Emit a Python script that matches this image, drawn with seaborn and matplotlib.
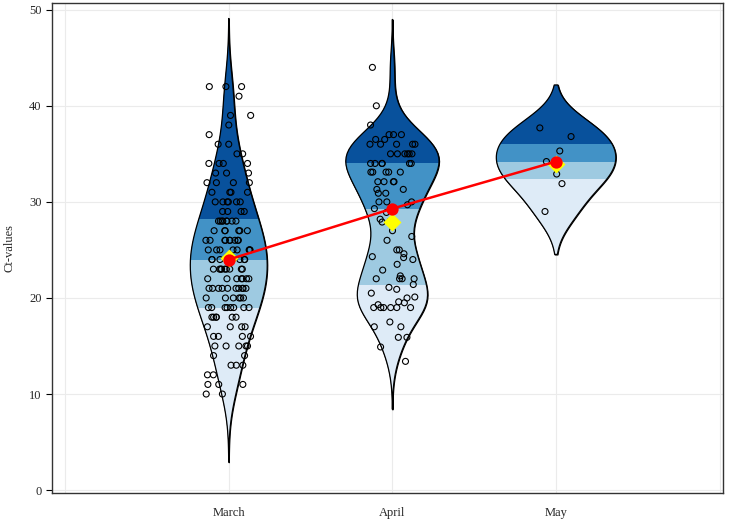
import numpy as np
import pandas as pd
import matplotlib
matplotlib.use('Agg')
import matplotlib.pyplot as plt
import seaborn as sns
from matplotlib.patches import Rectangle, PathPatch

sns.set_style('white')
plt.rcParams['font.family'] = ['Liberation Serif', 'DejaVu Serif']

months = ['March', 'April', 'May']

# March Ct values are whole numbers: value and number of samples at it
march_values = [42, 41, 39, 38, 37, 36, 35, 34, 33, 32, 31, 30, 29, 28, 27, 26,
                25, 24, 23, 22, 21, 20, 19, 18, 17, 16, 15, 14, 13, 12, 11, 10]
march_counts = [3, 1, 2, 1, 1, 2, 2, 4, 3, 4, 4, 6, 4, 8, 6, 9,
                8, 9, 9, 7, 10, 6, 8, 6, 4, 4, 5, 2, 3, 2, 3, 2]

april_ct = [44, 40, 38, 37, 37, 37, 36.5, 36.5, 36, 36, 36, 36, 36,
            35, 35, 35, 35, 35, 35, 34, 34, 34, 34, 34, 34,
            33.1, 33.1, 33.1, 33.1, 33.1, 32.1, 32.1, 32.1, 32.1,
            31.3, 31.3, 30.9, 30.9, 30, 30, 30, 29.7, 29.3, 28.9, 28.2, 28.0, 27.9,
            27, 26.4, 26, 25, 25, 24.6, 24.3, 24.2, 24, 23.5, 22.9, 22.3,
            22, 22, 22, 22, 21.4, 21.1, 20.9, 20.5, 20.1, 20, 19.6, 19.5, 19.3,
            19, 19, 19, 19, 19, 19, 17.5, 17, 17, 15.9, 15.9, 14.9, 13.4]

may_ct = [37.7, 36.8, 35.3, 34.2, 32.9, 31.9, 29.0]

march_ct = np.repeat(march_values, march_counts).astype(float)

df = pd.concat([
    pd.DataFrame({'month': 'March', 'ct': march_ct}),
    pd.DataFrame({'month': 'April', 'ct': april_ct}),
    pd.DataFrame({'month': 'May', 'ct': may_ct}),
], ignore_index=True)

band_colors = ['#deebf7', '#9ecae1', '#4292c6', '#08519c']
violin_widths = [0.47, 0.57, 0.73]
violin_cuts = [2.7, 2.6, 2.2]
violin_bw = [1.0, 0.65, 1.0]

fig = plt.figure(figsize=(7.33, 5.21), dpi=100)
ax = fig.add_axes([52 / 733, 28 / 521, 671 / 733, 490 / 521])

# one violin per month, then quartile bands clipped to its outline
for i, m in enumerate(months):
    sub = df[df['month'] == m]
    n_before = len(ax.collections)
    sns.violinplot(data=sub, x='month', y='ct', order=months, width=violin_widths[i],
                   cut=violin_cuts[i], bw_adjust=violin_bw[i], inner=None,
                   density_norm='width', color='white', linecolor='black',
                   linewidth=0.9, saturation=1, ax=ax)
    path = ax.collections[n_before].get_paths()[0]
    q1, q2, q3 = np.percentile(sub['ct'], [25, 50, 75])
    edges = [-10, q1, q2, q3, 70]
    for lo, hi, c in zip(edges[:-1], edges[1:], band_colors):
        r = Rectangle((i - 0.5, lo), 1, hi - lo, facecolor=c, edgecolor='none', zorder=2)
        ax.add_patch(r)
        r.set_clip_path(path, ax.transData)
    ax.add_patch(PathPatch(path, facecolor='none', edgecolor='black', lw=0.9, zorder=3))

# jittered hollow points
np.random.seed(7)
n_before = len(ax.collections)
sns.stripplot(data=df, x='month', y='ct', order=months, jitter=0.14, size=4.3,
              color='black', linewidth=0.8, zorder=4, ax=ax)
for coll in ax.collections[n_before:]:
    coll.set_facecolor('none')
    coll.set_edgecolor('black')

# mean (yellow diamond) and median (red, connected)
sns.pointplot(data=df, x='month', y='ct', order=months, estimator=np.mean, errorbar=None,
              color='#ffff00', marker='D', linestyle='none', markersize=7, zorder=5, ax=ax)
sns.pointplot(data=df, x='month', y='ct', order=months, estimator=np.median, errorbar=None,
              color='#ff0000', marker='o', markersize=7.5, linewidth=1.8, zorder=6, ax=ax)

ax.set_xlim(-1.08, 3.02)
ax.set_ylim(-0.3, 50.7)
ax.set_xticks([-1, 0, 1, 2, 3])
ax.set_xticklabels(['', 'March', 'April', 'May', ''], fontsize=9)
ax.set_yticks([0, 10, 20, 30, 40, 50])
ax.tick_params(axis='y', labelsize=9, length=4, width=0.8, color='black', left=True)
ax.tick_params(axis='x', length=0, pad=10)
ax.grid(True, color='#ebebeb', lw=0.8)
ax.set_axisbelow(True)
ax.set_xlabel('')
ax.set_ylabel('Ct-values', fontsize=9, labelpad=10)
for s in ax.spines.values():
    s.set_visible(True)
    s.set_color('#333333')
    s.set_linewidth(1.0)

fig.savefig('out.png', dpi=100)
